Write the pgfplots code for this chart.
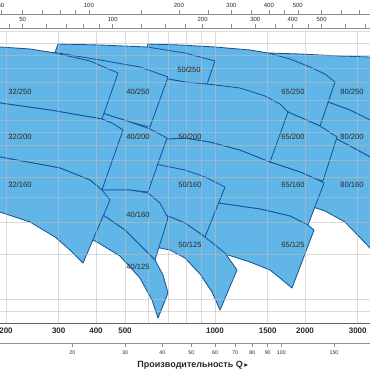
\documentclass[border=0pt]{standalone}
\usepackage{pgfplots}
\pgfplotsset{compat=1.18}
\usepackage{fontspec}
\setmainfont{Liberation Sans}
\newfontfamily\dejavu{DejaVu Sans}
\definecolor{pfill}{RGB}{98,182,231}
\definecolor{pline}{RGB}{22,86,152}
\definecolor{gridc}{RGB}{190,190,190}
\definecolor{axc}{RGB}{140,140,140}
\definecolor{axd}{RGB}{100,100,100}
\definecolor{txt}{RGB}{40,40,40}
\tikzset{lbl/.style={font=\fontsize{7.6}{7.6}\selectfont, text=txt, inner sep=0pt}}
\pgfplotsset{
  region/.style={fill=pfill, draw=pline, line width=0.85pt, line join=round, mark=none},
  scaleaxis/.style={scale only axis, width=370pt, height=6pt, xmin=0, xmax=370, ymin=0, ymax=1,
    hide y axis, x axis line style={draw=axc, line width=0.6pt},
    tick align=outside, major tick length=4pt, minor tick length=4pt,
    every tick/.style={draw=axc, line width=0.6pt}},
  mainaxis/.style={at={(0pt,47pt)}, anchor=south west, scale only axis, width=370pt, height=292pt,
    xmin=0, xmax=370, ymin=31, ymax=323, y dir=reverse},
}
\begin{document}
\begin{tikzpicture}[x=1pt,y=1pt]
\useasboundingbox (0,0) rectangle (370,370);
% ---- US gpm scale (top row)
\begin{axis}[scaleaxis, at={(0pt,356pt)}, anchor=north west, axis x line*=top,
  xtick={0.9,88.9,178.9,231.5,268.9,297.8}, xticklabels={50,100,200,300,400,500},
  minor xtick={22.5,42.5,59.9,75.2,141.5,207.8,251.5,284.2,321.5,341.5,358.9},
  xticklabel style={font=\fontsize{6}{6}\selectfont, text=txt, yshift=-1pt}]
\end{axis}
% ---- Imp gpm scale (second row)
\begin{axis}[scaleaxis, at={(0pt,342pt)}, anchor=north west, axis x line*=top,
  xtick={22.6,112.6,202.6,255.3,292.6,321.6}, xticklabels={50,100,200,300,400,500},
  minor xtick={8.9,46.3,66.3,83.6,98.9,141.6,165.3,185.3,231.6,275.3,307.9,345.3,365.3},
  xticklabel style={font=\fontsize{6}{6}\selectfont, text=txt, yshift=-1.5pt}]
\end{axis}
% ---- m3/h scale (bottom)
\begin{axis}[scaleaxis, at={(0pt,27pt)}, anchor=south west, axis x line*=bottom,
  xtick={72.3,125,162.3,191.3,215,235,252.4,267.7,281.3,334,371.3},
  xticklabels={20,30,40,50,60,70,80,90,100,150,200},
  xticklabel style={font=\fontsize{5.3}{5.3}\selectfont, text=txt},
  xlabel={Производительность Q\,{\dejavu\fontsize{7.5}{7.5}\selectfont ▸}},
  xlabel style={font=\bfseries\fontsize{9}{9}\selectfont, text=txt, at={(axis description cs:0.362,0)}, anchor=west, yshift=-22pt}]
\end{axis}
% ---- main chart
\begin{axis}[mainaxis,
  axis on top,
  axis x line*=bottom, x axis line style={draw=axd, line width=0.9pt},
  axis y line*=left, y axis line style={draw=none},
  xtick={6,58.7,96,125,148.7,168.7,186,201.3,215,267.7,305,357.7},
  xticklabels={200,300,400,500,{},{},{},{},1000,1500,2000,3000},
  xtick style={draw=none}, ytick style={draw=none},
  ytick={31,43.1,54.8,67.9,82.7,99.9,120.1,131.8,144.9,159.8,176.9,197.2,222,254,299.1,310.8}, yticklabels={},
  grid=major, major grid style={draw=gridc, line width=0.55pt, opacity=0.55},
  xticklabel style={font=\bfseries\fontsize{8}{8}\selectfont, text=txt, yshift=-1pt},
]
% column 80
\addplot[region] coordinates {(230,52) (268,53) (300,54) (340,56) (370,57) (420,61) (420,142) (370,120) (350,110) (328,102) (300,92) (260,83) (230,78)} -- cycle;
\addplot[region] coordinates {(260,83) (300,92) (328,102) (350,110) (370,120) (420,142) (420,190) (370,157) (350,146) (333,137) (320,134) (300,131) (270,128)} -- cycle;
\addplot[region] coordinates {(270,128) (300,131) (320,134) (333,137) (350,146) (370,157) (420,190) (420,300) (370,248) (345,222) (325,211) (313,207) (300,204) (270,200)} -- cycle;
% column 65
\addplot[region] coordinates {(148,44) (180,45) (215,47) (250,50) (268,53) (290,59) (310,67) (325,74) (335,82) (320,126) (288,112) (265,103) (240,96) (200,90) (150,85) (134,84)} -- cycle;
\addplot[region] coordinates {(134,84) (150,85) (200,90) (240,96) (265,103) (288,112) (320,126) (337,137) (323,181) (316,179) (300,172) (270,162) (240,150) (210,142) (185,138) (167,139) (140,136) (117,134)} -- cycle;
\addplot[region] coordinates {(117,134) (140,136) (167,139) (185,138) (210,142) (240,150) (270,162) (300,172) (316,179) (324,183) (308,225) (290,216) (260,209) (218,203) (190,200) (100,190)} -- cycle;
\addplot[region] coordinates {(190,200) (218,203) (260,209) (290,216) (308,225) (314,230) (292,288) (280,278) (270,270) (250,262) (228,255) (200,250) (175,248)} -- cycle;
% column 50
\addplot[region] coordinates {(58,44) (100,45) (147,47) (185,53) (215,61) (207,84) (185,82) (168,79) (140,77) (100,75) (48,73)} -- cycle;
\addplot[region] coordinates {(48,73) (100,75) (140,77) (168,79) (185,82) (207,84) (240,88) (265,96) (280,104) (288,112) (270,162) (240,150) (210,142) (185,138) (167,139) (140,136) (100,133) (29,130)} -- cycle;
\addplot[region] coordinates {(100,158) (120,160) (150,163) (185,170) (205,177) (225,187) (205,237) (185,223) (168,216) (140,210) (110,205) (85,204)} -- cycle;
\addplot[region] coordinates {(85,204) (110,205) (140,210) (168,216) (185,223) (205,237) (225,253) (237,270) (220,310) (212,292) (200,274) (185,258) (170,250) (155,247) (120,240) (75,235)} -- cycle;
% column 40
\addplot[region] coordinates {(-40,49) (0,50) (30,51) (58,53) (100,60) (140,67) (168,77) (150,127) (130,122) (102,113) (60,105) (0,98) (-40,95)} -- cycle;
\addplot[region] coordinates {(-40,95) (0,98) (60,105) (102,113) (130,122) (150,129) (167,138) (148,192) (130,190) (102,190) (60,184) (0,178) (-40,175)} -- cycle;
\addplot[region] coordinates {(-40,175) (0,178) (60,184) (102,190) (130,190) (148,193) (160,203) (168,218) (155,260) (140,245) (125,230) (103,215) (80,205) (0,195) (-40,192)} -- cycle;
\addplot[region] coordinates {(-40,192) (0,195) (80,205) (103,215) (125,230) (140,245) (155,260) (163,275) (168,293) (158,318) (152,300) (140,278) (120,256) (97,242) (80,234) (40,220) (0,205) (-40,200)} -- cycle;
% column 32
\addplot[region] coordinates {(-60,44) (0,47) (30,49) (55,53) (90,61) (118,73) (102,119) (50,110) (0,103) (-60,97)} -- cycle;
\addplot[region] coordinates {(-60,97) (0,103) (50,110) (102,119) (112,123) (123,130) (102,190) (90,180) (60,168) (0,157) (-60,150)} -- cycle;
\addplot[region] coordinates {(-60,150) (0,157) (60,168) (90,180) (102,190) (110,200) (83,263) (70,250) (55,237) (30,222) (0,212) (-60,202)} -- cycle;
\end{axis}
% ---- labels above the grid
\begin{axis}[mainaxis, hide axis]
\node[lbl] at (axis cs:20,92) {32/250};
\node[lbl] at (axis cs:138,92) {40/250};
\node[lbl] at (axis cs:189,70) {50/250};
\node[lbl] at (axis cs:293,92) {65/250};
\node[lbl] at (axis cs:352,92) {80/250};
\node[lbl] at (axis cs:20,137) {32/200};
\node[lbl] at (axis cs:138,137) {40/200};
\node[lbl] at (axis cs:190,137) {50/200};
\node[lbl] at (axis cs:293,137) {65/200};
\node[lbl] at (axis cs:352,137) {80/200};
\node[lbl] at (axis cs:20,185) {32/160};
\node[lbl] at (axis cs:138,215) {40/160};
\node[lbl] at (axis cs:190,185) {50/160};
\node[lbl] at (axis cs:293,185) {65/160};
\node[lbl] at (axis cs:352,185) {80/160};
\node[lbl] at (axis cs:138,267) {40/125};
\node[lbl] at (axis cs:190,245) {50/125};
\node[lbl] at (axis cs:293,245) {65/125};
\end{axis}
\end{tikzpicture}
\end{document}
